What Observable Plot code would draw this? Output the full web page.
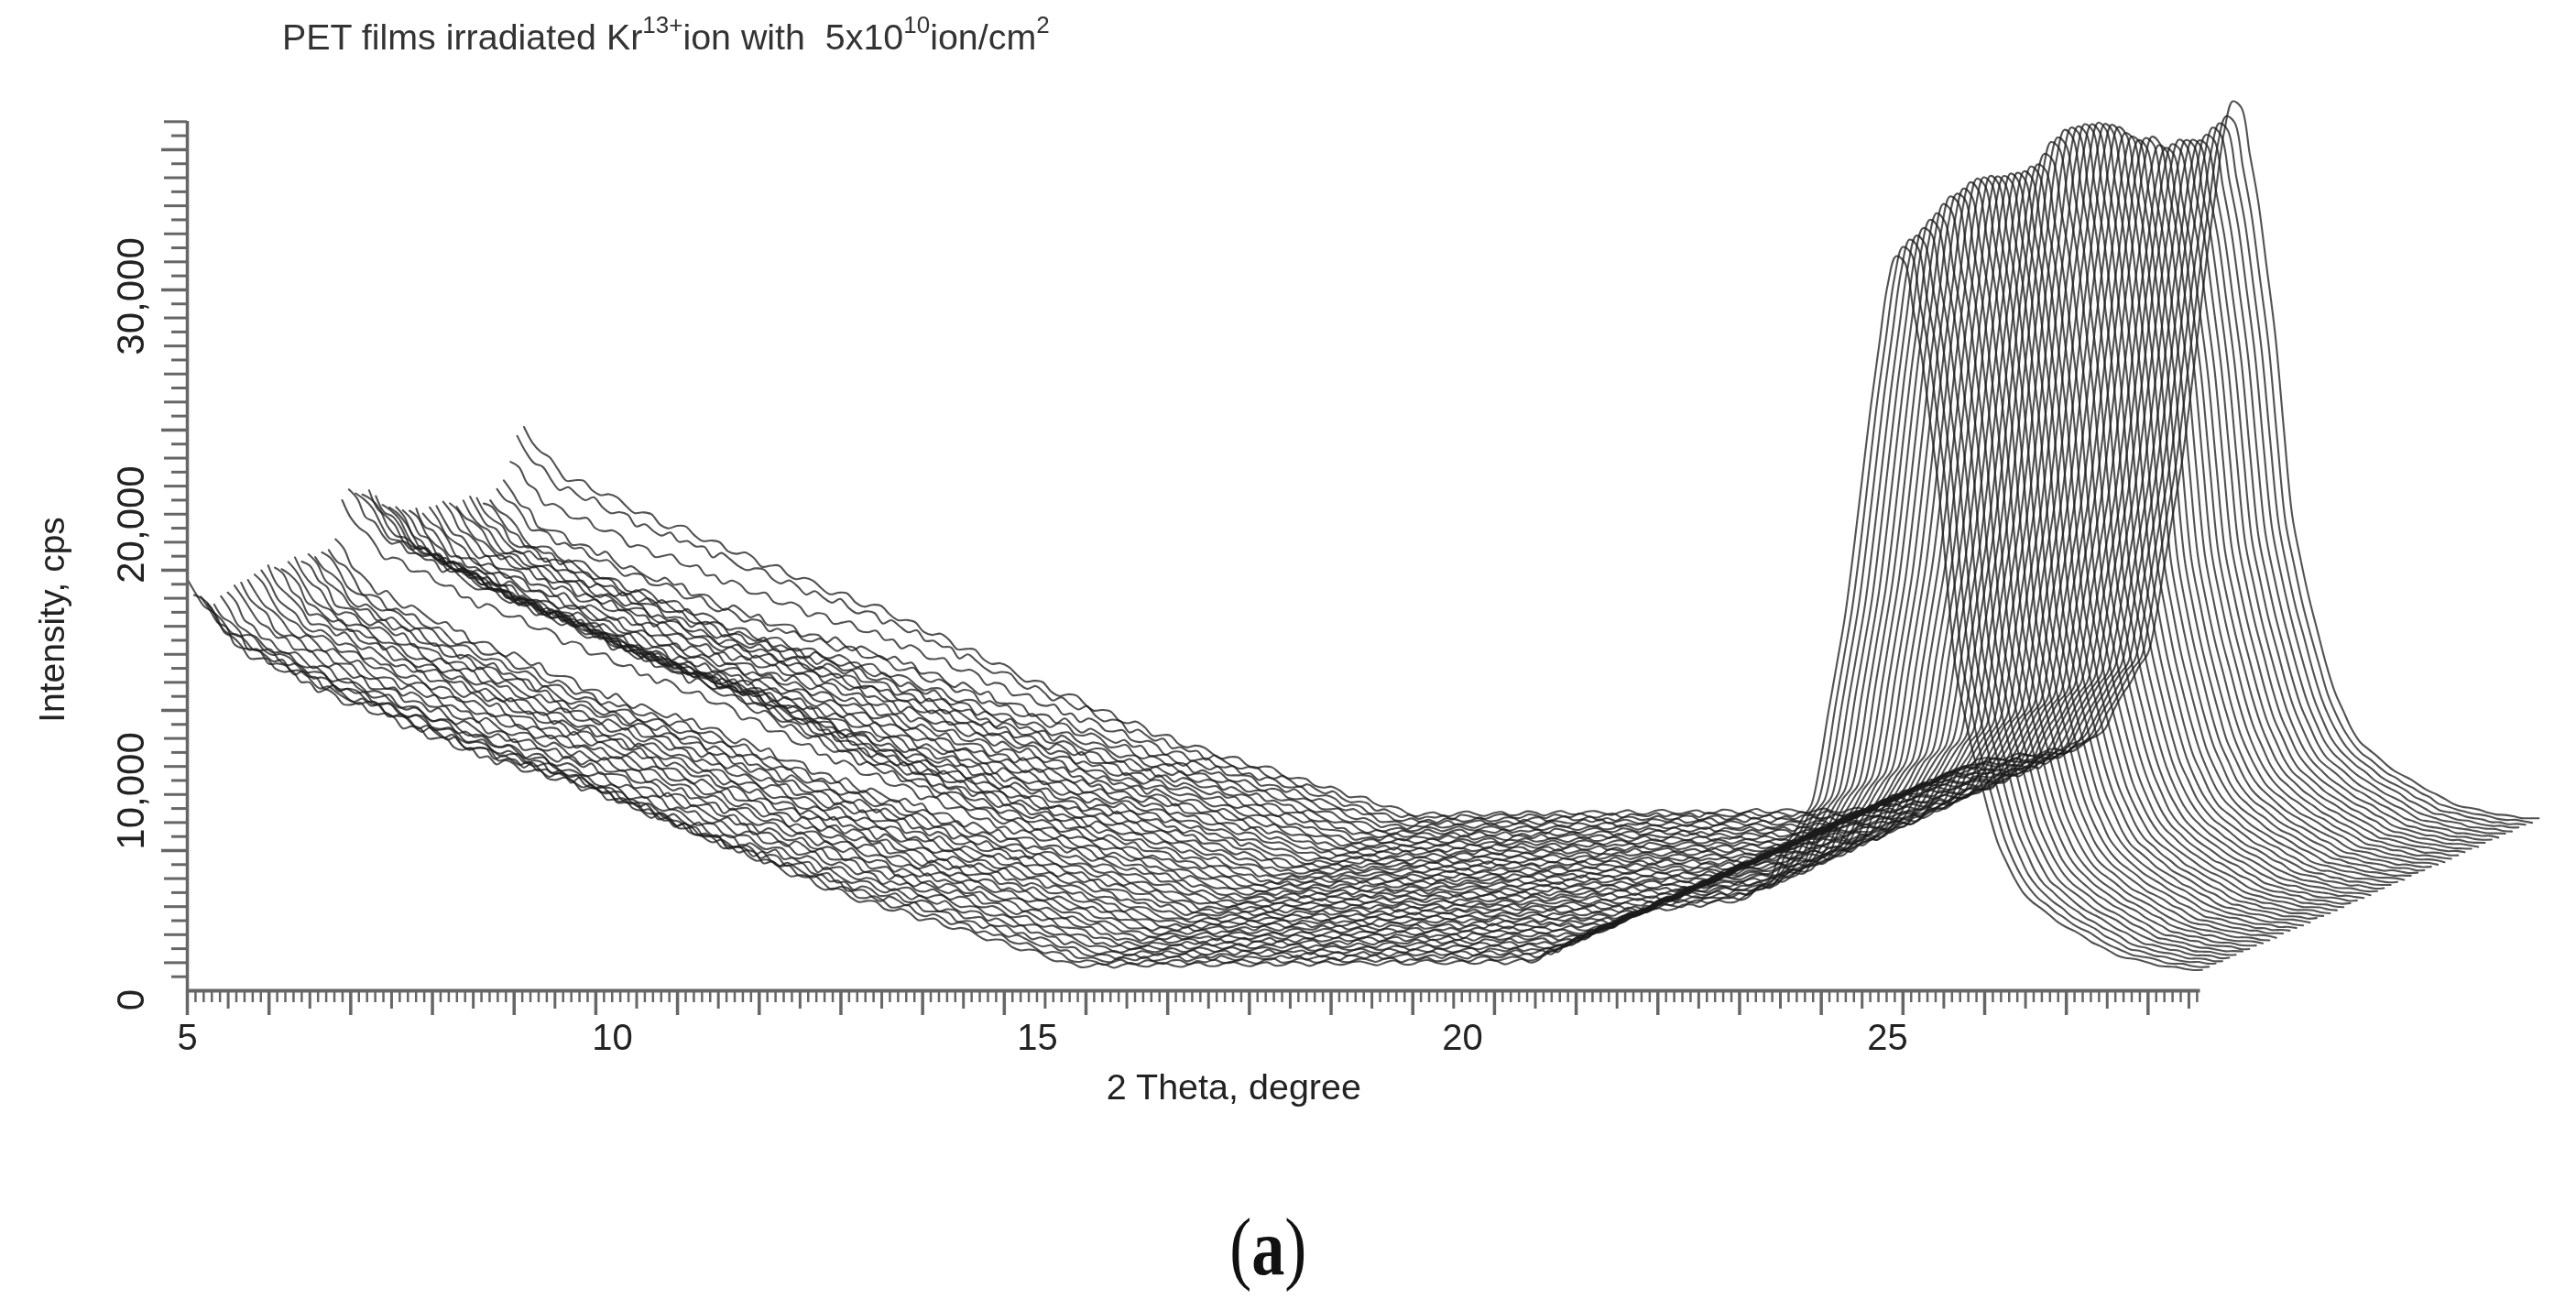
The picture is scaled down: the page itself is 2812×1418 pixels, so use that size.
<!DOCTYPE html>
<html>
<head>
<meta charset="utf-8">
<script src="https://cdn.jsdelivr.net/npm/d3@7"></script>
<script src="https://cdn.jsdelivr.net/npm/@observablehq/plot@0.6"></script>
<style>
html,body{margin:0;padding:0;background:#fff;width:2812px;height:1418px;overflow:hidden}
#title{height:70px;box-sizing:border-box;padding-left:308px;font:39.4px/80px "Liberation Sans",sans-serif;color:#333;white-space:pre;filter:blur(.7px)}
#title sup{font-size:26px;line-height:0;vertical-align:baseline;position:relative;top:-18px}
#chart svg{display:block}
#caption{height:158px;width:2768px;text-align:center;font:88px/204px "Liberation Serif",serif;color:#111}
#caption span{display:inline-block;transform:scaleX(.82)}
</style>
</head>
<body>
<div id="title">PET films irradiated Kr<sup>13+</sup>ion with  5x10<sup>10</sup>ion/cm<sup>2</sup></div>
<div id="chart"></div>
<div id="caption"><span>(<b>a</b>)</span></div>
<script>
// Front scan: intensity (cps) every scanStep degrees from scanStart
const scanStart = 5, scanStep = 0.1;
const frontScan = [
17560,17120,16680,16240,15800,15550,15380,15210,15040,14870,
14700,14530,14350,14160,13980,13790,13600,13480,13360,13240,
13100,12950,12790,12640,12480,12330,12170,12030,11880,11730,
11580,11430,11280,11130,10980,10830,10690,10550,10410,10270,
10130,9990,9850,9710,9570,9395,9220,9045,8870,8700,
8525,8350,8175,8000,7830,7655,7480,7300,7130,6955,
6780,6615,6460,6310,6155,6000,5850,5695,5540,5390,
5235,5080,4930,4775,4625,4470,4320,4170,4060,3950,
3840,3730,3620,3510,3400,3290,3180,3070,2960,2850,
2740,2630,2520,2410,2290,2175,2060,1945,1830,1715,
1600,1485,1370,1255,1140,1090,1080,1080,1090,1090,
1100,1100,1110,1100,1110,1120,1110,1120,1130,1120,
1130,1140,1130,1140,1150,1140,1150,1160,1150,1160,
1170,1160,1170,1180,1170,1180,1190,1180,1190,1200,
1190,1200,1210,1200,1210,1220,1210,1220,1230,1220,
1230,1240,1230,1240,1250,1240,1250,1260,1250,1400,1650,1840,1985,2125,2270,2410,
2550,2695,2850,3030,3220,3390,3440,3490,3530,3570,
3620,3670,3710,3760,3800,3840,3870,3960,4240,4520,
4800,5500,6200,6800,7450,7950,9600,11900,14000,16100,
18900,22000,25050,27700,30300,31600,31300,29300,27300,24500,
21600,17600,13900,12000,10300,8900,7550,6350,5500,4750,
4200,3850,3550,3250,2980,2750,2540,2340,2120,1920,
1700,1530,1430,1350,1260,1180,1090,1030,990,950,
910,880
];
// Apparent peak top of each scan, front to back (cps)
const peakTops = [
31850,32200,32500,32700,33050,33400,33650,34050,34400,34550,
34750,35000,35150,35200,35250,35250,35300,35350,35400,35450,
35650,35800,36250,36750,36950,37250,37350,37400,37500,37500,
37550,37500,37450,37350,37150,36950,36800,36900,36950,36600,
36450,36650,36800,36800,36800,36800,37050,37300,37500,37850,38500
];
// Low-angle drop of each scan relative to the regular stack (cps)
const lowAngleDrop = [
0,-590,-1180,-1650,-1700,-1760,-1720,-1680,-1750,-1730,
-1700,-1770,-1720,-1690,-1740,-1760,-1710,-1730,-1680,-1750,
-1720,-1740,-1730,-400,0,-160,-280,-550,-790,-1060,
-1300,-1540,-1650,-1720,-1750,-1700,-1730,-1760,-1690,-1640,
-1620,-1750,-1780,-1800,-1850,-1900,-1570,-1610,-790,-120,0
];
// Stacking shift between consecutive scans
const stepDeg = 0.0792, stepCps = 130;
// Scan-to-scan counting noise, cps
const noiseA = [90,-40,-120,30,110,-70,-100,60,130,-30,-110,20,80,-90,-60,100,40,-130,10,120,-50,-80,70];
const noiseB = [-60,100,-20,-130,70,120,-90,-40,110,50,-120,-10,140,-70,-100,80,30,-110,60,90,-140,20,-30,100,-80];
const noiseC = [120,-110,10,90,-70,-140,100,40,-60,130,-100,-30,70,110,-130,0,60,-90,140,-20,-120,80,30,-50,-80,110,-10];
const noiseD = [30,-130,80,60,-100,-20,120,-80,-50,100,70,-140,40,90,-110,10,130,-60,-30,110,-90];
const noiseE = [-100,60,130,-50,-90,110,20,-120,90,-10,-70,140,-40,-110,50,100,-130,70,0,-60,120,-80,40,-20,80,-140,110,30,-70];
const noiseSets = [noiseA, noiseB, noiseC, noiseD, noiseE];
const dropWeightDeg = [5, 8, 10, 12, 13.5], dropWeight = [1, 1, .6, .2, 0];
const noiseGainDeg = [5, 12, 15.5, 23.5, 24, 30], noiseGain = [1.4, 1.4, .8, .8, .25, .25];
// Axis
const axisEndDeg = 28.68, axisTopCps = 37360;
const xTickStep = 0.0961, xTickCount = 246, yTickStep = 602.4, yTickCount = 62;
const xLabels = [5, 10, 15, 20, 25];
const yLabels = ["0", "10,000", "20,000", "30,000"];
const yLabelAt = [-394, 8583, 20039, 29843];

const sans = "'Liberation Sans',Arial,sans-serif";
const wDrop = d3.scaleLinear(dropWeightDeg, dropWeight).clamp(true);
const wNoise = d3.scaleLinear(noiseGainDeg, noiseGain).clamp(true);

const rows = [];
peakTops.forEach((top, k) => {
  const set = noiseSets[k % 5], scale = (top - k * stepCps - 8000) / (peakTops[0] - 8000);
  frontScan.forEach((v, i) => {
    const d = scanStart + i * scanStep;
    const body = v > 8000 ? 8000 + (v - 8000) * scale : v;
    const n = set[(i + k * 3) % set.length];
    rows.push({k, x: d + k * stepDeg, y: body + k * stepCps + lowAngleDrop[k] * wDrop(d) + n * wNoise(d)});
  });
});
const xAll = d3.range(xTickCount + 1).map(i => ({i, x: scanStart + i * xTickStep}));
const yAll = d3.range(yTickCount + 1).map(i => ({i, y: i * yTickStep}));
const xLong = xAll.filter(t => t.i % 10 === 0).map(t => t.x);
const xMid = xAll.filter(t => t.i % 5 === 0 && t.i % 10).map(t => t.x);
const xMinor = xAll.filter(t => t.i % 5).map(t => t.x);
const yLong = yAll.filter(t => t.i % 10 === 0 && t.i).map(t => t.y);
const yMid = yAll.filter(t => t.i % 2 === 0 && t.i % 10).map(t => t.y);
const yMinor = yAll.filter(t => t.i % 2).map(t => t.y);
const blank = () => "";

const plot = Plot.plot({
  width: 2812, height: 1190,
  marginLeft: 204, marginRight: 12, marginTop: 10, marginBottom: 179,
  x: {domain: [5, 32.974], axis: null},
  y: {domain: [0, 39409], axis: null},
  style: {background: "#fff", filter: "blur(.6px)"},
  marks: [
    Plot.line(rows, {x: "x", y: "y", z: "k", stroke: "#1c1c1c", strokeOpacity: .76, strokeWidth: 2.1, curve: "catmull-rom"}),
    Plot.axisX({ticks: xLong, tickSize: 27, tickFormat: blank, label: null, stroke: "#666", strokeWidth: 3.5}),
    Plot.axisX({ticks: xMid, tickSize: 20, tickFormat: blank, label: null, stroke: "#666", strokeWidth: 3}),
    Plot.axisX({ticks: xMinor, tickSize: 13, tickFormat: blank, label: null, stroke: "#666", strokeWidth: 2.5}),
    Plot.axisY({ticks: yLong, tickSize: 28, tickFormat: blank, label: null, stroke: "#666", strokeWidth: 3.5}),
    Plot.axisY({ticks: yMid, tickSize: 25, tickFormat: blank, label: null, stroke: "#666", strokeWidth: 3}),
    Plot.axisY({ticks: yMinor, tickSize: 17, tickFormat: blank, label: null, stroke: "#666", strokeWidth: 3}),
    Plot.ruleY([0], {x1: 5, x2: axisEndDeg, stroke: "#666", strokeWidth: 4}),
    Plot.ruleX([5], {y1: 0, y2: axisTopCps, stroke: "#666", strokeWidth: 3.5}),
    Plot.axisX({ticks: xLabels, label: null, tickSize: 0, tickPadding: 36, fontSize: 40, fontFamily: sans, fill: "#222", stroke: "none", tickFormat: d => String(d)}),
    Plot.text(yLabels, {x: () => 5, y: (d, i) => yLabelAt[i], dx: -61, text: d => d, rotate: -90, fontSize: 42, fontFamily: sans, fill: "#222"}),
    Plot.text(["Intensity, cps"], {x: () => 3.416, y: () => 15945, text: d => d, rotate: -90, fontSize: 39, fontFamily: sans, fill: "#222"}),
    Plot.text(["2 Theta, degree"], {x: () => 17.31, y: () => -4173, text: d => d, fontSize: 39.5, fontFamily: sans, fill: "#222"})
  ]
});
document.getElementById("chart").append(plot);
</script>
</body>
</html>
